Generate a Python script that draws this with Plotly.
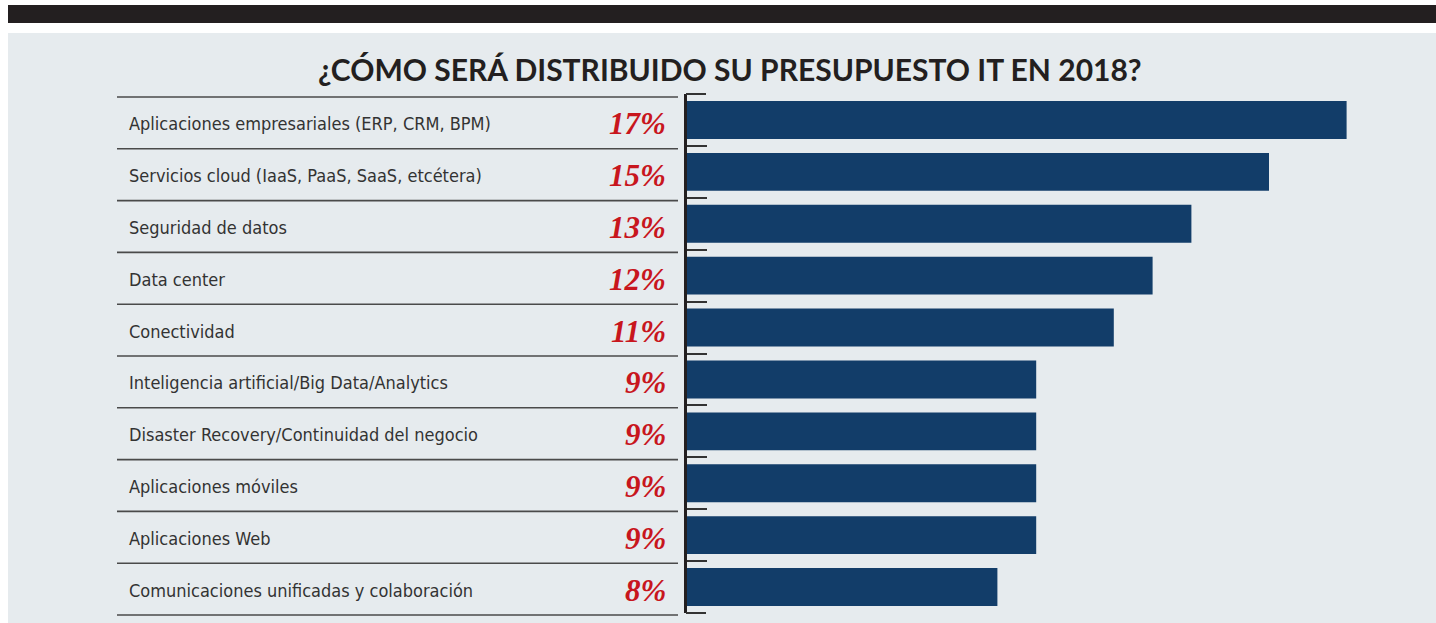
import plotly.graph_objects as go

categories = [
    "Aplicaciones empresariales (ERP, CRM, BPM)",
    "Servicios cloud (IaaS, PaaS, SaaS, etcétera)",
    "Seguridad de datos",
    "Data center",
    "Conectividad",
    "Inteligencia artificial/Big Data/Analytics",
    "Disaster Recovery/Continuidad del negocio",
    "Aplicaciones móviles",
    "Aplicaciones Web",
    "Comunicaciones unificadas y colaboración",
]
values = [17, 15, 13, 12, 11, 9, 9, 9, 9, 8]
value_labels = ["17%", "15%", "13%", "12%", "11%", "9%", "9%", "9%", "9%", "8%"]
title = "¿CÓMO SERÁ DISTRIBUIDO SU PRESUPUESTO IT EN 2018?"

W, H = 1436, 623
def px(x):
    return x / W
def py(y):
    return 1 - y / H

x0_px = 687
scale = 38.8  # px per percent
x_end_px = 1420
ax_top, ax_bot = 94, 613

fig = go.Figure()
fig.add_trace(go.Bar(
    x=values, y=categories, orientation="h",
    marker=dict(color="#123d69", line=dict(width=0)),
    width=0.73, hoverinfo="skip",
))

shapes = []
# black top band
shapes.append(dict(type="rect", xref="paper", yref="paper",
                   x0=px(8), x1=px(1436), y0=py(23), y1=py(5),
                   fillcolor="#231f20", line=dict(width=0), layer="below"))
# light panel
shapes.append(dict(type="rect", xref="paper", yref="paper",
                   x0=px(8), x1=px(1436), y0=py(623), y1=py(33),
                   fillcolor="#e6ebee", line=dict(width=0), layer="below"))
# table separator lines
n = len(categories)
row_h = (615 - 97) / n
for k in range(n + 1):
    yy = 97 + k * row_h
    shapes.append(dict(type="line", xref="paper", yref="paper",
                       x0=px(117), x1=px(678), y0=py(yy), y1=py(yy),
                       line=dict(color="#4a4a4a", width=1.6)))
# end ticks of the bracket axis
for yy in (ax_top, ax_bot):
    shapes.append(dict(type="line", xref="paper", yref="paper",
                       x0=px(686), x1=px(706), y0=py(yy), y1=py(yy),
                       line=dict(color="#333333", width=2)))

annotations = []
annotations.append(dict(text=title, xref="paper", yref="paper",
                        x=px(730), y=py(69), xanchor="center", yanchor="middle",
                        showarrow=False,
                        font=dict(family="Lato, 'Open Sans', sans-serif", size=30,
                                  color="#231f20", weight="bold")))
for i, (c, v) in enumerate(zip(categories, value_labels)):
    cy = 97 + (i + 0.5) * row_h + 1
    annotations.append(dict(text=c, xref="paper", yref="paper",
                            x=px(127), y=py(cy), xanchor="left", yanchor="middle",
                            showarrow=False,
                            font=dict(family="'DejaVu Sans Condensed', 'Liberation Sans Narrow', sans-serif",
                                      size=18, color="#333333")))
    annotations.append(dict(text=v, xref="paper", yref="paper",
                            x=px(668), y=py(cy), xanchor="right", yanchor="middle",
                            showarrow=False,
                            font=dict(family="'Liberation Serif', 'DejaVu Serif', serif",
                                      size=31, color="#c8161d", style="italic",
                                      weight="bold")))

fig.update_layout(
    width=W, height=H,
    margin=dict(l=0, r=0, t=0, b=0),
    paper_bgcolor="white",
    plot_bgcolor="rgba(0,0,0,0)",
    showlegend=False,
    bargap=0.27,
    shapes=shapes,
    annotations=annotations,
    xaxis=dict(domain=[px(x0_px), px(x_end_px)],
               range=[0, (x_end_px - x0_px) / scale],
               showgrid=False, zeroline=False, showticklabels=False,
               showline=False, ticks=""),
    yaxis=dict(domain=[py(ax_bot), py(ax_top)],
               categoryorder="array", categoryarray=categories,
               autorange="reversed",
               showgrid=False, zeroline=False, showticklabels=False,
               showline=True, linecolor="#231f20", linewidth=3,
               ticks="inside", tickson="boundaries", ticklen=20,
               tickwidth=2, tickcolor="#333333"),
)

fig.write_html(
    "out.html",
    config={"displayModeBar": False},
    post_script="document.body.style.margin='0';document.documentElement.style.overflow='hidden';document.body.style.overflow='hidden';",
)
